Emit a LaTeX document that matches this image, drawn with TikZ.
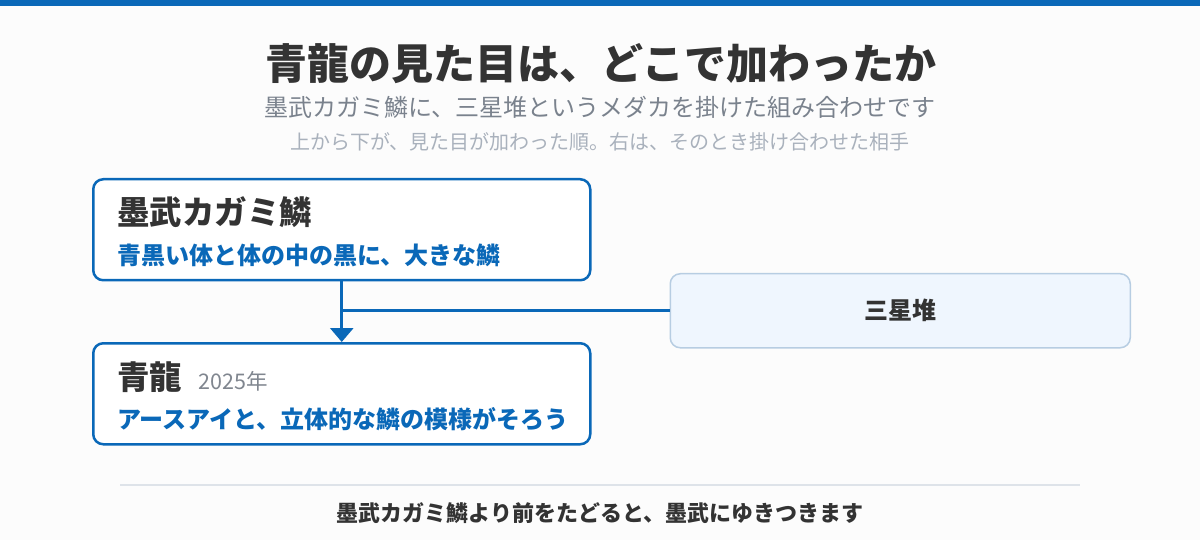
\documentclass[tikz,border=0pt]{standalone}
\usepackage{fontspec}
\setmainfont{Noto Sans CJK JP}
\usetikzlibrary{positioning,arrows.meta,calc}

\definecolor{mainblue}{HTML}{0A68B8}
\definecolor{titlecol}{HTML}{333333}
\definecolor{subcol}{HTML}{7A828D}
\definecolor{notecol}{HTML}{A9B1BC}
\definecolor{yearcol}{HTML}{80868F}
\definecolor{partnerfill}{HTML}{EFF6FE}
\definecolor{partnerline}{HTML}{B7CDE2}
\definecolor{rulecol}{HTML}{DEE3E9}
\definecolor{bgcol}{HTML}{FCFCFC}

\begin{document}
\begin{tikzpicture}[x=1pt, y=-1pt,
    box/.style={rectangle, rounded corners=10pt, draw=mainblue, fill=white, line width=2.5pt, minimum width=497pt, minimum height=101pt, anchor=north west},
    partner/.style={rectangle, rounded corners=10pt, draw=partnerline, fill=partnerfill, line width=1.5pt, minimum width=460pt, minimum height=74pt, anchor=north west},
    line/.style={draw=mainblue, line width=3pt},
    txt/.style={inner sep=0pt, text=titlecol},
    fishname/.style={txt, anchor=west, font=\fontsize{32.5}{38}\selectfont\bfseries},
    fishtrait/.style={txt, anchor=west, text=mainblue, font=\fontsize{24}{28}\selectfont\bfseries}
]

% Background
\fill[bgcol] (0,0) rectangle (1200,540);
\fill[mainblue] (0,0) rectangle (1200,6.5);

% Heading
\node[txt, font=\fontsize{42}{50}\selectfont\bfseries] (title) at (601,64) {青龍の見た目は、どこで加わったか};
\node[txt, text=subcol, font=\fontsize{24}{28}\selectfont] (subtitle) at (600,107) {墨武カガミ鱗に、三星堆というメダカを掛けた組み合わせです};
\node[txt, text=notecol, font=\fontsize{20}{24}\selectfont] (note) at (600,142) {上から下が、見た目が加わった順。右は、そのとき掛け合わせた相手};

% Nodes
\node[box] (sumitake) at (92,178) {};
\node[fishname] (sumitakename) at ([shift={(25,34)}]sumitake.north west) {墨武カガミ鱗};
\node[fishtrait] (sumitaketrait) at ([shift={(25,77)}]sumitake.north west) {青黒い体と体の中の黒に、大きな鱗};

\node[box] (seiryu) at (92,342) {};
\node[fishname] (seiryuname) at ([shift={(25,35)}]seiryu.north west) {青龍};
\node[txt, anchor=base west, text=yearcol, font=\fontsize{21.5}{24}\selectfont] (seiryuyear) at ([xshift=16pt]seiryuname.base east) {2025年};
\node[fishtrait] (seiryutrait) at ([shift={(25,77)}]seiryu.north west) {アースアイと、立体的な鱗の模様がそろう};

\node[partner] (sanseitai) at (669.5,273) {};
\node[txt, font=\fontsize{24}{28}\selectfont\bfseries] (sanseitainame) at (sanseitai.center) {三星堆};

% Lines
\draw[line, -{Triangle[width=23pt,length=14pt]}] (sumitake.south) -- (seiryu.north);
\draw[line] (sanseitai.west) -- (sanseitai.west -| sumitake.south);

% Footer
\draw[rulecol, line width=2pt] (120,485) -- (1080,485);
\node[txt, font=\fontsize{22}{26}\selectfont\bfseries] (footer) at (600,513) {墨武カガミ鱗より前をたどると、墨武にゆきつきます};

\end{tikzpicture}
\end{document}
